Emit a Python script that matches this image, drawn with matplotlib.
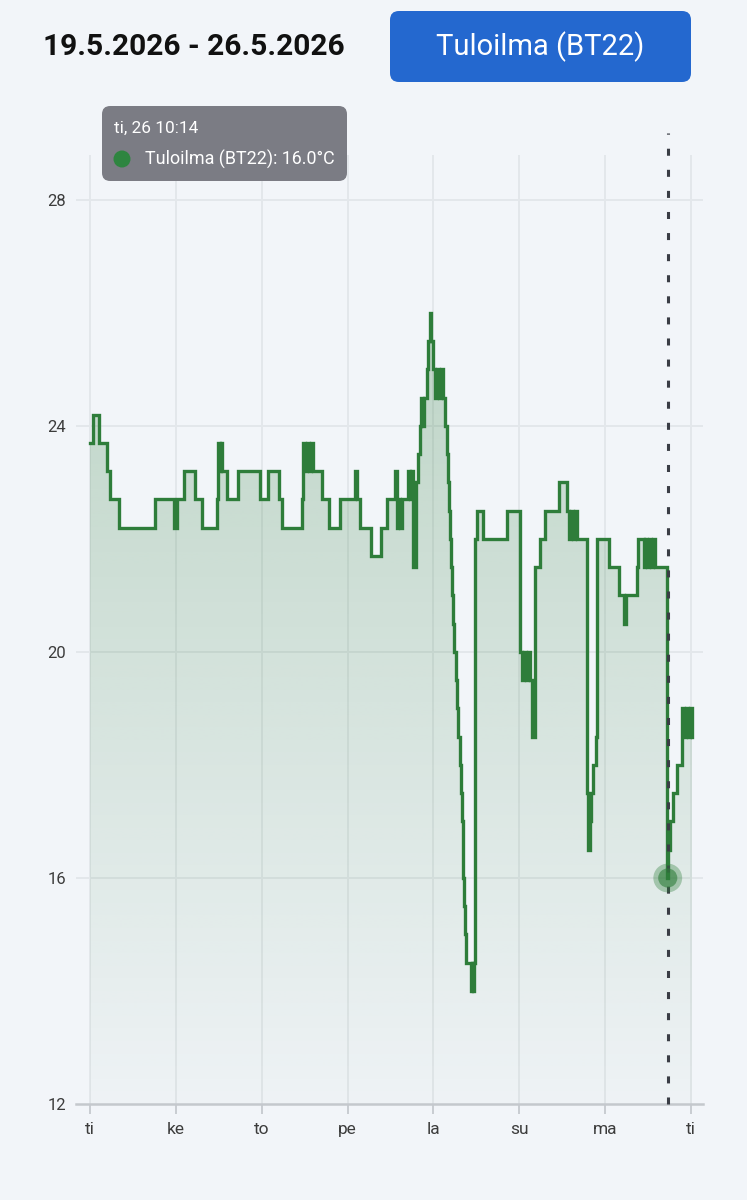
import numpy as np
import matplotlib
matplotlib.use("Agg")
import matplotlib.pyplot as plt
from matplotlib.patches import FancyBboxPatch, PathPatch, Ellipse

# ---------------- data ----------------
title_text = "19.5.2026 - 26.5.2026"
button_text = "Tuloilma (BT22)"
tooltip_time = "ti, 26 10:14"
tooltip_label = "Tuloilma (BT22): 16.0°C"
day_labels = ["ti", "ke", "to", "pe", "la", "su", "ma", "ti"]
y_ticks = [12, 16, 20, 24, 28]

# hours since start (Tue 00:00), step values (°C)
hours = [0.0, 0.84, 2.52, 4.75, 5.59, 8.11, 18.17, 23.48, 24.32, 26.28,
         29.35, 31.31, 35.50, 35.78, 36.20, 36.62, 36.90, 38.30, 41.37, 47.52,
         49.76, 52.83, 53.67, 59.26, 59.54, 60.10, 60.66, 61.22, 61.78, 62.34,
         64.85, 66.81, 69.88, 74.08, 74.63, 75.47, 78.55, 81.34, 83.02, 85.26,
         85.68, 86.10, 86.65, 87.21, 88.89, 89.45, 89.87, 90.29, 91.13, 91.69,
         92.24, 92.52, 93.08, 93.50, 94.20, 94.48, 95.04, 95.46, 95.88, 96.44,
         97.00, 97.56, 98.12, 98.67, 99.23, 99.79, 100.07, 100.35, 100.63, 100.91,
         101.19, 101.47, 101.75, 102.31, 102.59, 102.87, 103.43, 103.70, 103.98, 104.26,
         104.40, 104.54, 104.82, 105.10, 106.50, 106.78, 107.06, 107.34, 107.62, 108.18,
         109.85, 116.56, 120.20, 120.76, 121.31, 121.87, 122.43, 122.99, 123.55, 124.39,
         125.79, 127.19, 131.10, 133.34, 133.90, 134.45, 135.01, 135.57, 136.13, 138.93,
         139.21, 139.63, 139.91, 140.60, 141.44, 141.72, 145.08, 147.87, 149.27, 149.83,
         152.90, 153.18, 154.86, 155.14, 155.70, 156.26, 156.82, 157.38, 157.94, 161.29,
         161.57, 162.13, 162.97, 164.09, 165.49, 166.05, 166.61, 167.17, 167.72, 168.28]
temps = [23.7, 24.2, 23.7, 23.2, 22.7, 22.2, 22.7, 22.2, 22.7, 23.2,
         22.7, 22.2, 22.7, 23.7, 23.2, 23.7, 23.2, 22.7, 23.2, 22.7,
         23.2, 22.7, 22.2, 22.7, 23.7, 23.2, 23.7, 23.2, 23.7, 23.2,
         22.7, 22.2, 22.7, 23.2, 22.7, 22.2, 21.7, 22.2, 22.7, 23.2,
         22.2, 22.7, 22.2, 22.7, 23.2, 22.7, 23.2, 21.5, 23.0, 23.5,
         24.0, 24.5, 24.0, 24.5, 25.0, 25.5, 26.0, 25.5, 25.0, 24.5,
         25.0, 24.5, 25.0, 24.5, 24.0, 23.5, 23.0, 22.5, 22.0, 21.5,
         21.0, 20.5, 20.0, 19.5, 19.0, 18.5, 18.0, 17.5, 17.0, 16.5,
         16.0, 15.5, 15.0, 14.5, 14.0, 14.5, 14.0, 14.5, 22.0, 22.5,
         22.0, 22.5, 20.0, 19.5, 20.0, 19.5, 20.0, 19.5, 18.5, 21.5,
         22.0, 22.5, 23.0, 22.5, 22.0, 22.5, 22.0, 22.5, 22.0, 17.5,
         16.5, 17.0, 17.5, 18.0, 18.5, 22.0, 21.5, 21.0, 20.5, 21.0,
         21.5, 22.0, 21.5, 22.0, 21.5, 22.0, 21.5, 22.0, 21.5, 16.0,
         16.5, 17.0, 17.5, 18.0, 19.0, 18.5, 19.0, 18.5, 19.0, 18.5]
cursor_hour = 161.5
cursor_value = 16.0

# ---------------- style ----------------
W, H = 747, 1200
bg = "#f2f5f9"
green = "#2e7d3a"
grid_c = "#e3e7eb"
text_c = "#3c3c3c"

plt.rcParams["font.family"] = ["Roboto", "DejaVu Sans"]

fig = plt.figure(figsize=(W / 100, H / 100), dpi=100)
fig.patch.set_facecolor(bg)

def fx(x):
    return x / W

def fy(y):
    return 1 - y / H

ax_l, ax_r, ax_t, ax_b = 76, 703, 133, 1104
ax = fig.add_axes([fx(ax_l), fy(ax_b), (ax_r - ax_l) / W, (ax_b - ax_t) / H])
ax.set_facecolor(bg)

px_per_hour = 85.86 / 24.0
xmin = -(90 - ax_l) / px_per_hour
xmax = 168 + (ax_r - 691) / px_per_hour
px_per_deg = 56.5
ymin = 12
ymax = 28 + (200 - ax_t) / px_per_deg
ygrid_top = 28 + (200 - 155) / px_per_deg

t = np.array(hours)
v = np.array(temps)

# grid
for yt in y_ticks[1:]:
    ax.axhline(yt, color=grid_c, lw=1.4, zorder=0)
ax.vlines(np.arange(0, 169, 24), ymin, ygrid_top, color=grid_c, lw=1.4, zorder=0)

# gradient fill under step line
fill = ax.fill_between(t, v, ymin, step="post", facecolor="none", edgecolor="none")
n = 256
grad = np.zeros((n, 1, 4))
rgb = matplotlib.colors.to_rgb(green)
grad[:, 0, 0] = rgb[0]
grad[:, 0, 1] = rgb[1]
grad[:, 0, 2] = rgb[2]
grad[:, 0, 3] = np.linspace(0.02, 0.27, n)
im = ax.imshow(grad, extent=[xmin, xmax, ymin, 26.2], origin="lower",
               aspect="auto", zorder=1, interpolation="bilinear")
clip = PathPatch(fill.get_paths()[0], transform=ax.transData,
                 facecolor="none", edgecolor="none")
ax.add_patch(clip)
im.set_clip_path(clip)

# step line
ax.step(t, v, where="post", color=green, lw=2.4, zorder=3, solid_joinstyle="miter")

# cursor line
ax.plot([cursor_hour, cursor_hour], [ymin, ymax], color="#3a3d45", lw=2.2,
        linestyle=(0, (2.3, 4.6)), zorder=4, clip_on=False)

# marker with halo
ax.scatter([cursor_hour], [cursor_value], s=430, color=green, alpha=0.35,
           zorder=5, edgecolors="none")
ax.scatter([cursor_hour], [cursor_value], s=190, color=green, alpha=0.6,
           zorder=6, edgecolors="none")

ax.set_xlim(xmin, xmax)
ax.set_ylim(ymin, ymax)

for s in ["top", "right", "left"]:
    ax.spines[s].set_visible(False)
ax.spines["bottom"].set_color("#c4c8cd")
ax.spines["bottom"].set_linewidth(1.8)

ax.set_xticks(np.arange(0, 169, 24))
ax.set_xticklabels(day_labels)
ax.set_yticks(y_ticks)
ax.set_yticklabels([str(y) for y in y_ticks])
ax.tick_params(axis="x", length=7, width=1.4, color="#c8ccd1", pad=6,
               labelsize=12.5, labelcolor=text_c)
ax.tick_params(axis="y", length=0, pad=7, labelsize=12, labelcolor=text_c)

# title
fig.text(fx(43), fy(47), title_text, fontsize=21.5, fontweight="bold",
         color="#111111", ha="left", va="center")

# button
btn = FancyBboxPatch((fx(390), fy(82)), fx(691 - 390), (82 - 11) / H,
                     boxstyle="round,pad=0,rounding_size=0.012",
                     transform=fig.transFigure, facecolor="#2468cf",
                     edgecolor="none", mutation_aspect=W / H)
fig.add_artist(btn)
fig.text(fx(540.5), fy(47), button_text, fontsize=21, color="white",
         ha="center", va="center")

# tooltip
tip = FancyBboxPatch((fx(102), fy(181)), fx(347 - 102), (181 - 106) / H,
                     boxstyle="round,pad=0,rounding_size=0.011",
                     transform=fig.transFigure, facecolor="#7b7c84",
                     edgecolor="none", mutation_aspect=W / H, zorder=10)
fig.add_artist(tip)
fig.text(fx(114), fy(128), tooltip_time, fontsize=12.4, color="white",
         ha="left", va="center", zorder=11)
dot = Ellipse((fx(122), fy(159)), 17 / W, 17 / H, transform=fig.transFigure,
              facecolor="#2e8540", edgecolor="none", zorder=11)
fig.add_artist(dot)
fig.text(fx(145), fy(159), tooltip_label, fontsize=12.9, color="white",
         ha="left", va="center", zorder=11)

fig.savefig("out.png", dpi=100, facecolor=bg)
